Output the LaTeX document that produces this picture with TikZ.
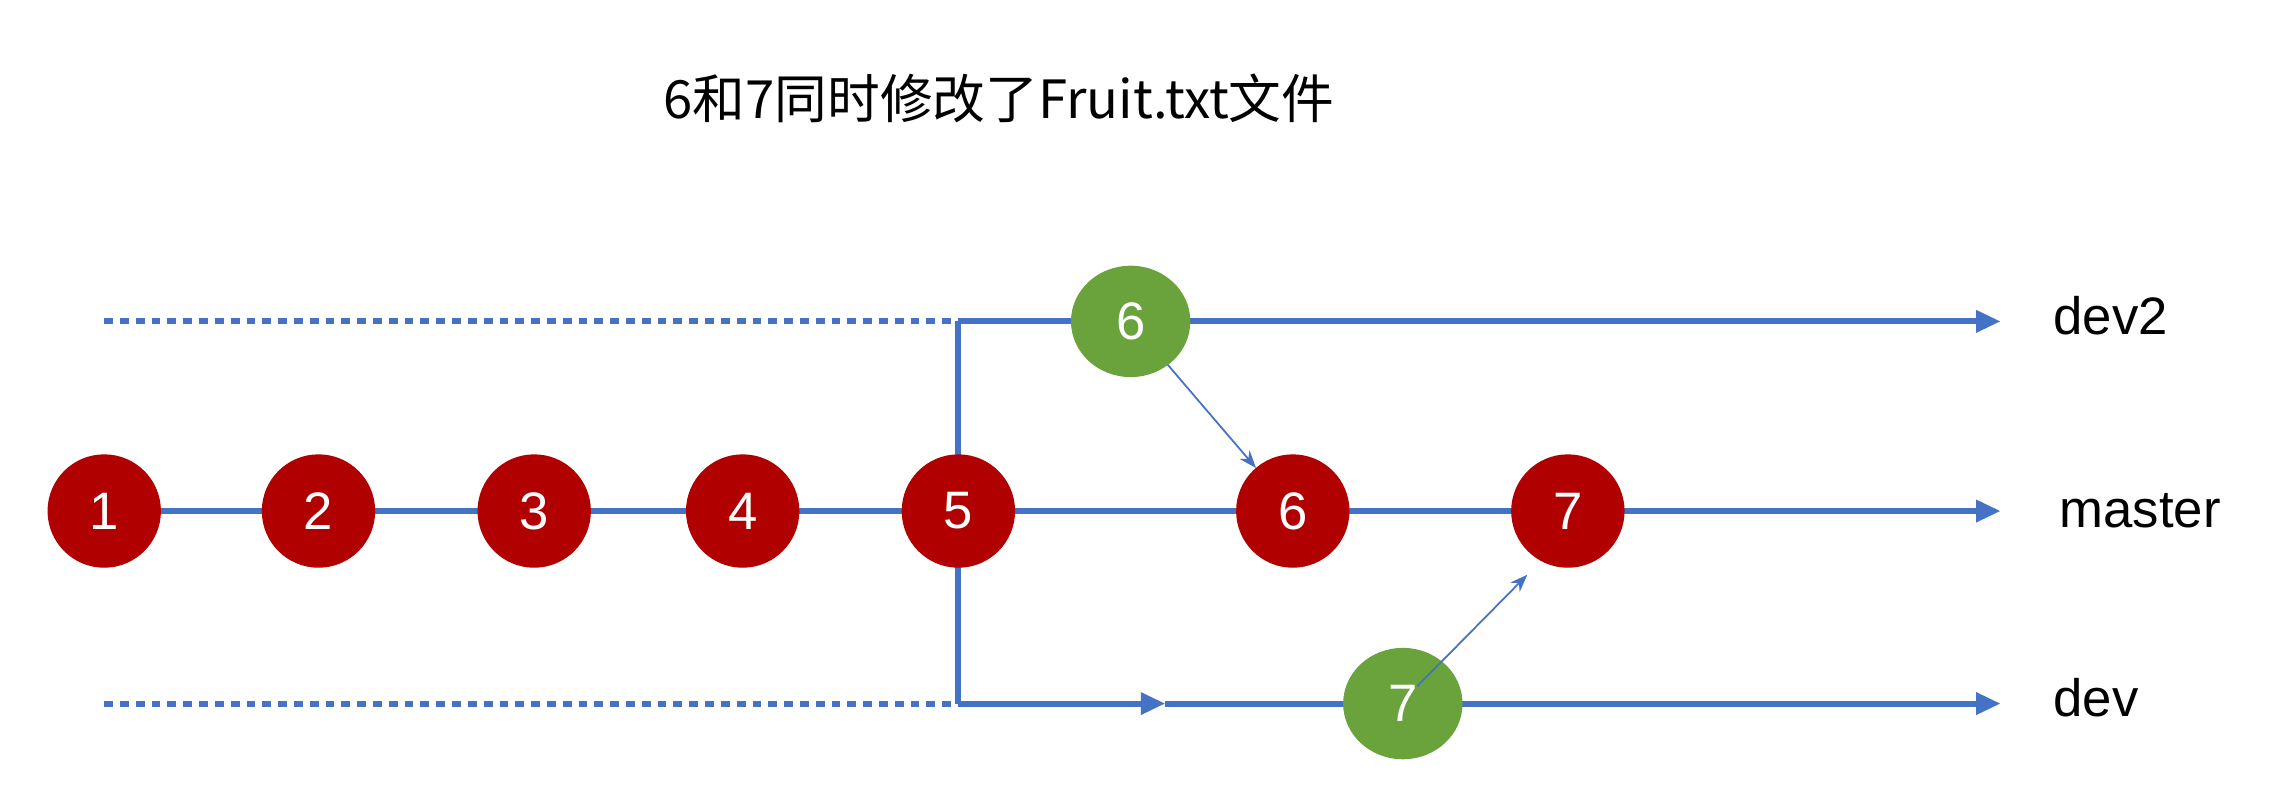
\documentclass[tikz,border=0pt]{standalone}
\usepackage{fontspec}
\setmainfont{Liberation Sans}
\newfontfamily\cjk{Noto Sans CJK SC}
\usetikzlibrary{arrows.meta,decorations.markings}
\definecolor{cred}{HTML}{B00000}
\definecolor{cgreen}{HTML}{6AA23C}
\definecolor{cblue}{HTML}{4472C4}
\begin{document}
\begin{tikzpicture}[x=0.01448cm,y=-0.01448cm,
  commit/.style={circle,draw=cred,fill=cred,minimum size=1.12cm,inner sep=0pt,text=white,font=\fontsize{15}{18}\selectfont},
  gcommit/.style={ellipse,draw=cgreen,fill=cgreen,minimum width=1.18cm,minimum height=1.1cm,inner sep=0pt,text=white,font=\fontsize{15}{18}\selectfont},
  branch/.style={draw=cblue,line width=1.7pt,-{Triangle[length=7pt,width=6pt]}},
  dots/.style={draw=cblue,line width=1.7pt,dash pattern=on 2.5pt off 2pt},
  thin/.style={draw=cblue,line width=0.5pt,-{Stealth[length=5pt]}},
  lbl/.style={anchor=west,font=\fontsize{15}{18}\selectfont}]
\useasboundingbox (0,0) rectangle (1568,544);
\usetikzlibrary{shapes.geometric}
\node[font=\cjk\fontsize{15}{18}\selectfont] (title) at (690,68) {6和7同时修改了Fruit.txt文件};
\coordinate (d2s) at (72,222); \coordinate (d2c) at (662,222); \coordinate (d2e) at (1382,222);
\coordinate (ms) at (72,353); \coordinate (me) at (1382,353);
\coordinate (ds) at (72,486); \coordinate (dc) at (662,486); \coordinate (dm) at (805,486); \coordinate (de) at (1382,486);
\draw[dots] (d2s) -- (d2c);
\draw[dots] (ds) -- (dc);
\draw[cblue,line width=1.7pt] (d2c) -- (dc);
\draw[branch] (d2c) -- (d2e);
\draw[branch] (ms) -- (me);
\draw[branch] (dc) -- (dm);
\draw[branch] (dm) -- (de);
\node[commit] (c1) at (72,353) {1};
\node[commit] (c2) at (220,353) {2};
\node[commit] (c3) at (369,353) {3};
\node[commit] (c4) at (513,353) {4};
\node[commit] (c5) at (662,353) {5};
\node[commit] (c6) at (893,353) {6};
\node[commit] (c7) at (1083,353) {7};
\node[gcommit] (g6) at (781,222) {6};
\node[gcommit] (g7) at (969,486) {7};
\coordinate (t7) at (1055,397);
\draw[thin] (g6) -- (c6);
\draw[thin] (g7.center) ++(10,-12) coordinate (f7) (f7) -- (t7);
\node[lbl] (l1) at (1410,218) {dev2};
\node[lbl] (l2) at (1414,353) {master};
\node[lbl] (l3) at (1410,482) {dev};
\end{tikzpicture}
\end{document}
